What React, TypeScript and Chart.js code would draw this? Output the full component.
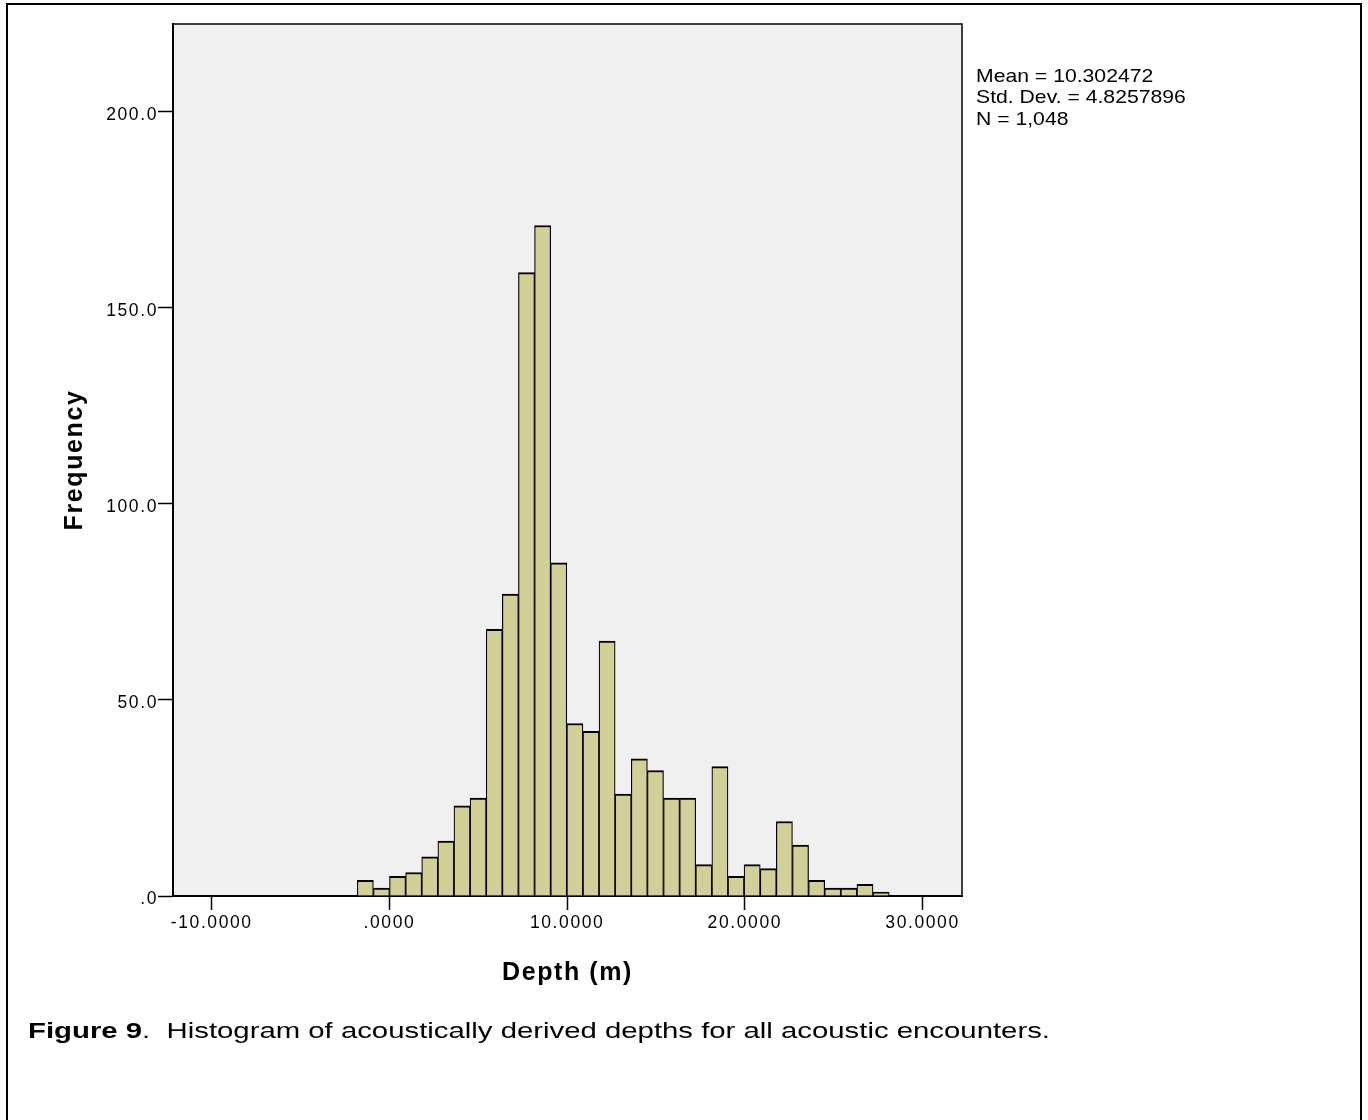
import React, { useEffect, useRef } from 'react';
import { Chart, registerables } from 'chart.js';

Chart.register(...registerables);

// Histogram bins: centre of each depth bin (m) and its count
const binCenters = [
  -1.357, -0.45, 0.457, 1.364, 2.271, 3.178, 4.085, 4.992, 5.899, 6.806, 7.713,
  8.62, 9.527, 10.434, 11.341, 12.248, 13.155, 14.062, 14.969, 15.876, 16.783,
  17.69, 18.597, 19.504, 20.411, 21.318, 22.225, 23.132, 24.039, 24.946, 25.853,
  26.76, 27.667,
];
const frequencies = [
  4, 2, 5, 6, 10, 14, 23, 25, 68, 77, 159, 171, 85, 44, 42, 65, 26, 35, 32, 25,
  25, 8, 33, 5, 8, 7, 19, 13, 4, 2, 2, 3, 1,
];

const xTickValues = [-10, 0, 10, 20, 30];
const yTickValues = [0, 50, 100, 150, 200];
const xRange = [-12.18, 32.22];
const yRange = [0, 222.4];

const statLines = ['Mean = 10.302472', 'Std. Dev. = 4.8257896', 'N = 1,048'];
const xTitle = 'Depth (m)';
const yTitle = 'Frequency';
const captionLead = 'Figure 9';
const captionRest = '.  Histogram of acoustically derived depths for all acoustic encounters.';

const FONT = "'Liberation Sans', Arial, sans-serif";

// SPSS style number labels: ".0", "50.0", "-10.0000", ".0000"
const spssFmt = (v: number, digits: number) =>
  v.toFixed(digits).replace(/^(-?)0\./, '$1.');

// Grey plot background, closing frame on the top/right, wider text spacing
const plotFrame = {
  id: 'plotFrame',
  beforeDraw(chart: any) {
    const { ctx, chartArea: a } = chart;
    ctx.letterSpacing = '1.6px';
    ctx.save();
    ctx.fillStyle = '#f0f0f0';
    ctx.fillRect(a.left, a.top, a.right - a.left, a.bottom - a.top);
    ctx.restore();
  },
  afterDraw(chart: any) {
    const { ctx, chartArea: a } = chart;
    ctx.save();
    ctx.strokeStyle = '#000';
    ctx.lineWidth = 1.5;
    ctx.beginPath();
    ctx.moveTo(a.left, a.top);
    ctx.lineTo(a.right, a.top);
    ctx.lineTo(a.right, a.bottom);
    ctx.stroke();
    ctx.restore();
  },
};

export default function App() {
  const canvasRef = useRef<HTMLCanvasElement>(null);

  useEffect(() => {
    if (!canvasRef.current) return;
    const chart = new Chart(canvasRef.current, {
      type: 'bar',
      data: {
        datasets: [
          {
            data: binCenters.map((x, i) => ({ x, y: frequencies[i] })),
            backgroundColor: '#d3cf98',
            borderColor: '#000',
            borderWidth: { top: 2, left: 1.2, right: 1.2, bottom: 0 },
            borderSkipped: 'start',
            barPercentage: 1,
            categoryPercentage: 1,
          },
        ],
      },
      options: {
        responsive: false,
        animation: false,
        devicePixelRatio: 1,
        layout: { padding: { left: 0, top: 24, right: 406, bottom: 120 } },
        plugins: { legend: { display: false }, tooltip: { enabled: false } },
        scales: {
          x: {
            type: 'linear',
            offset: false,
            min: xRange[0],
            max: xRange[1],
            afterBuildTicks: (s: any) => {
              s.ticks = xTickValues.map((value) => ({ value }));
            },
            afterFit: (s: any) => {
              s.height = 104;
            },
            grid: {
              offset: false,
              drawOnChartArea: false,
              drawTicks: true,
              tickLength: 14,
              tickColor: '#000',
              tickWidth: 1.5,
            },
            border: { display: true, color: '#000', width: 2 },
            ticks: {
              color: '#000',
              padding: 3,
              maxRotation: 0,
              autoSkip: false,
              font: { family: FONT, size: 17.5 },
              callback: (v: any) => spssFmt(Number(v), 4),
            },
            title: {
              display: true,
              text: xTitle,
              color: '#000',
              font: { family: FONT, size: 25, weight: 'bold' },
              padding: { top: 0, bottom: 12 },
            },
          },
          y: {
            type: 'linear',
            min: yRange[0],
            max: yRange[1],
            afterBuildTicks: (s: any) => {
              s.ticks = yTickValues.map((value) => ({ value }));
            },
            afterFit: (s: any) => {
              s.width = 173;
            },
            grid: {
              drawOnChartArea: false,
              drawTicks: true,
              tickLength: 15,
              tickColor: '#000',
              tickWidth: 1.5,
            },
            border: { display: true, color: '#000', width: 2 },
            ticks: {
              color: '#000',
              padding: 0,
              labelOffset: 3,
              autoSkip: false,
              font: { family: FONT, size: 17.5 },
              callback: (v: any) => spssFmt(Number(v), 1),
            },
            title: {
              display: true,
              text: yTitle,
              color: '#000',
              font: { family: FONT, size: 25, weight: 'bold' },
              padding: { top: 60, bottom: 0 },
            },
          },
        },
      },
      plugins: [plotFrame],
    } as any);
    return () => chart.destroy();
  }, []);

  return (
    <div
      style={{
        position: 'fixed',
        left: 0,
        top: 0,
        width: 1368,
        height: 1120,
        overflow: 'hidden',
        background: '#fff',
        fontFamily: FONT,
        color: '#000',
      }}
    >
      <div
        style={{
          position: 'absolute',
          left: 6,
          top: 3,
          width: 1356,
          height: 1140,
          border: '2px solid #000',
          boxSizing: 'border-box',
        }}
      />
      <canvas
        ref={canvasRef}
        width={1368}
        height={1120}
        style={{ position: 'absolute', left: 0, top: 0, width: 1368, height: 1120 }}
      />
      <div
        style={{
          position: 'absolute',
          left: 976,
          top: 64.5,
          fontSize: 18.5,
          lineHeight: '21.5px',
          transform: 'scaleX(1.145)',
          transformOrigin: 'left top',
          whiteSpace: 'pre',
        }}
      >
        {statLines.map((t) => (
          <div key={t}>{t}</div>
        ))}
      </div>
      <div
        style={{
          position: 'absolute',
          left: 28,
          top: 1019,
          fontSize: 22,
          lineHeight: '24px',
          transform: 'scaleX(1.333)',
          transformOrigin: 'left top',
          whiteSpace: 'pre',
        }}
      >
        <b>{captionLead}</b>
        {captionRest}
      </div>
    </div>
  );
}
